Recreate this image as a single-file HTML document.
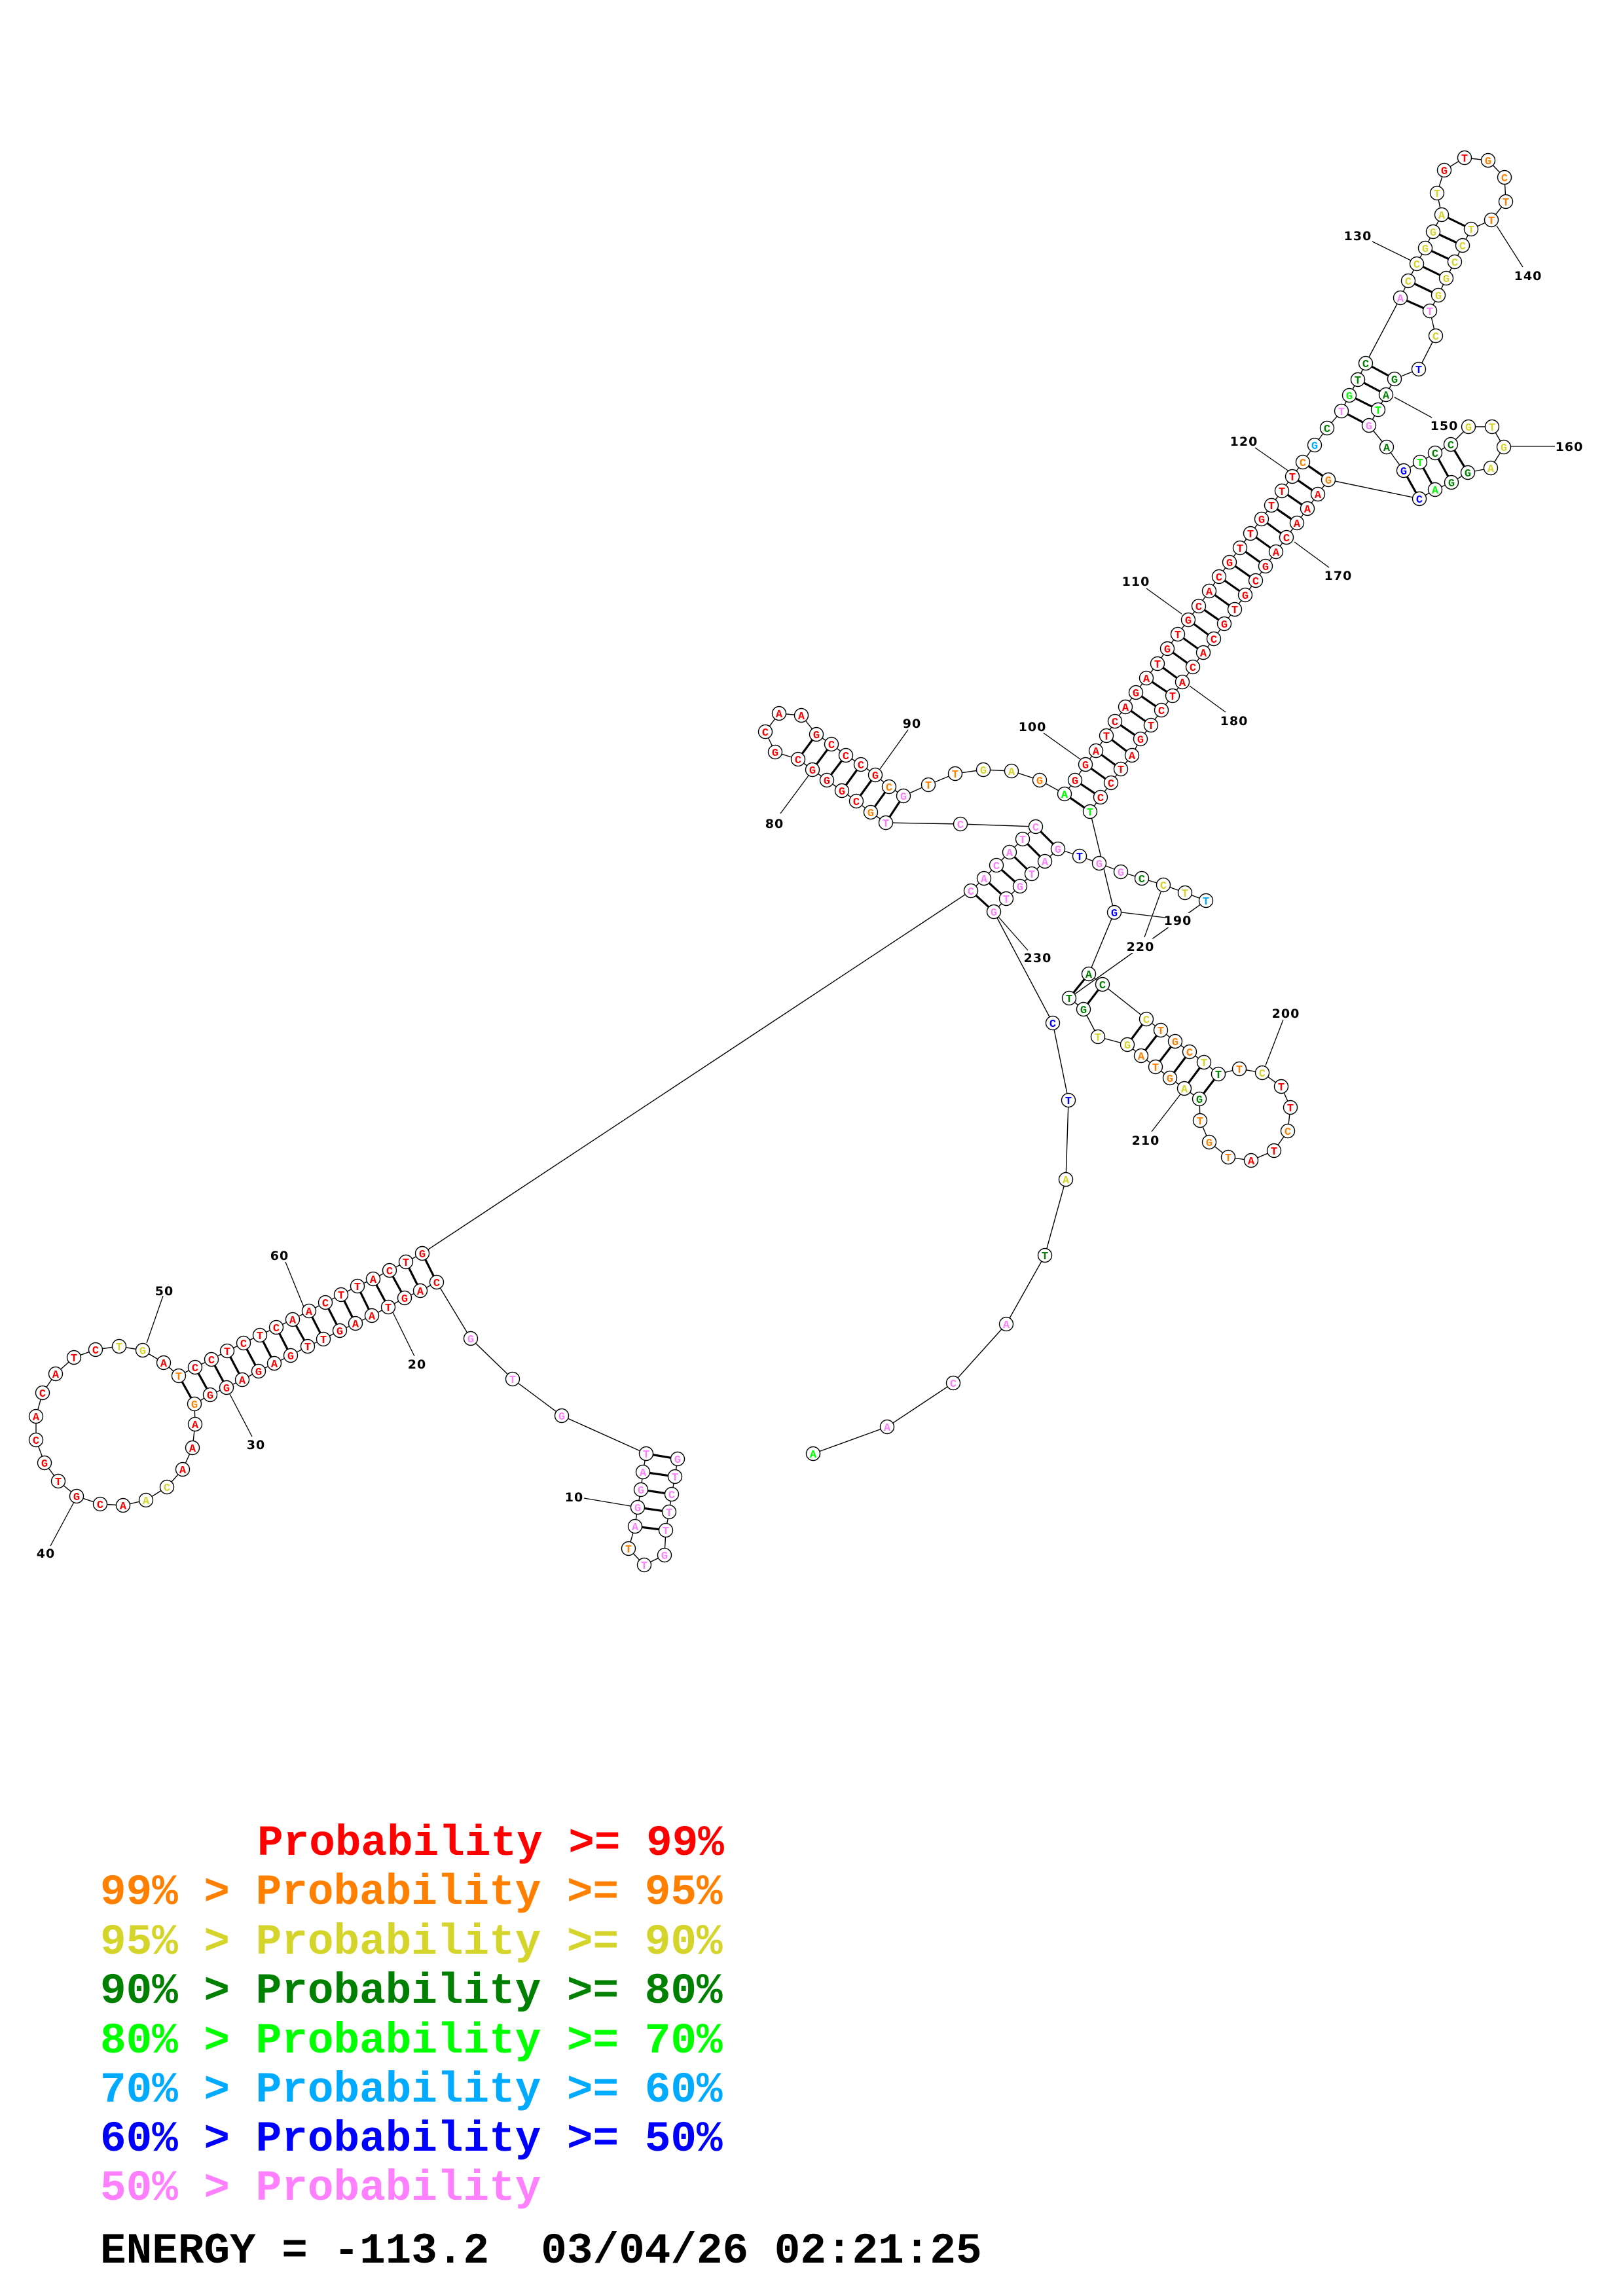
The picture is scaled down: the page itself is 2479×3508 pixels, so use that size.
<!DOCTYPE html>
<html><head><meta charset="utf-8"><style>
html,body{margin:0;padding:0;background:#fff;}
svg{display:block;}
.n circle{fill:#fff;stroke:#000;stroke-width:1.4;}
.t text{font-family:"Liberation Mono",monospace;font-weight:bold;font-size:17px;text-anchor:middle;}
.R{fill:#ff0000}.O{fill:#ff8000}.Y{fill:#d4d42a}.G{fill:#008000}.L{fill:#00ff00}.C{fill:#00aaff}.B{fill:#0000ff}.P{fill:#ff80ff}
.lab text{font-family:"DejaVu Sans","Liberation Sans",sans-serif;font-weight:bold;font-size:19px;text-anchor:middle;letter-spacing:1px;fill:#000}
.leg{font-family:"Liberation Mono",monospace;font-weight:bold;font-size:66px;white-space:pre;}
</style></head><body>
<svg width="2479" height="3508" viewBox="0 0 2479 3508" xmlns="http://www.w3.org/2000/svg">
<rect width="2479" height="3508" fill="#fff"/>
<polyline fill="none" stroke="#000" stroke-width="1.4" points="1035,2229 1031,2256 1026,2283 1022,2310 1017,2338 1015,2376 984,2391 960,2366 970,2332 974,2303 979,2276 982,2249 987,2221 858,2163 783,2107 719,2045 667,1959 642,1972 618,1983 593,1997 568,2010 543,2022 519,2033 494,2046 470,2057 444,2071 419,2083 395,2095 370,2108 346,2120 321,2131 297,2145 298,2176 294,2212 279,2245 255,2272 223,2292 188,2300 153,2298 117,2286 89,2263 68,2235 55,2200 55,2164 65,2128 85,2099 113,2074 146,2062 182,2057 218,2063 250,2082 273,2102 298,2089 323,2077 347,2064 372,2052 397,2040 422,2028 447,2016 472,2003 497,1990 521,1978 546,1965 570,1954 595,1941 620,1928 645,1915 1483,1361 1503,1342 1522,1322 1542,1302 1562,1282 1582,1263 1467,1259 1353,1257 1330,1241 1308,1224 1286,1208 1263,1192 1241,1176 1219,1160 1184,1149 1169,1118 1190,1090 1224,1093 1247,1122 1270,1137 1292,1154 1315,1168 1337,1184 1358,1202 1380,1216 1418,1199 1459,1182 1502,1176 1545,1178 1588,1192 1626,1213 1642,1192 1658,1168 1674,1147 1690,1124 1703,1102 1719,1080 1735,1058 1751,1036 1768,1014 1783,991 1799,969 1815,947 1831,926 1847,903 1862,881 1878,859 1894,837 1910,815 1927,793 1942,772 1958,750 1974,728 1990,706 2008,680 2027,654 2049,628 2061,604 2074,580 2086,555 2139,455 2151,429 2164,403 2177,379 2189,354 2202,328 2195,295 2206,260 2237,241 2273,245 2298,271 2300,308 2278,336 2247,350 2234,375 2222,400 2209,425 2197,451 2184,475 2193,513 2167,564 2130,579 2117,603 2105,626 2091,650 2118,683 2144,719 2169,706 2192,692 2216,679 2243,652 2279,652 2297,683 2277,715 2242,722 2217,737 2192,748 2168,762 2029,733 2013,755 1997,777 1981,799 1965,821 1949,843 1933,865 1918,887 1902,909 1886,931 1870,953 1854,976 1838,997 1822,1019 1806,1042 1791,1063 1774,1085 1758,1108 1742,1129 1729,1154 1712,1175 1697,1196 1681,1218 1665,1240 1702,1394 1663,1488 1684,1504 1751,1557 1773,1574 1795,1591 1817,1607 1839,1623 1861,1641 1893,1633 1928,1639 1957,1660 1971,1692 1967,1728 1946,1758 1911,1773 1876,1768 1847,1745 1833,1712 1832,1679 1809,1663 1787,1647 1765,1630 1743,1613 1722,1596 1677,1584 1655,1542 1633,1525 1842,1376 1810,1364 1777,1352 1744,1342 1712,1332 1679,1319 1649,1308 1616,1297 1596,1316 1576,1335 1558,1354 1537,1373 1518,1393 1608,1563 1632,1681 1628,1802 1596,1918 1537,2023 1456,2113 1355,2180 1242,2221"/>
<g stroke="#000" stroke-width="3.2">
<line x1="1035" y1="2229" x2="987" y2="2221"/><line x1="1031" y1="2256" x2="982" y2="2249"/><line x1="1026" y1="2283" x2="979" y2="2276"/><line x1="1022" y1="2310" x2="974" y2="2303"/><line x1="1017" y1="2338" x2="970" y2="2332"/>
<line x1="667" y1="1959" x2="645" y2="1915"/><line x1="642" y1="1972" x2="620" y2="1928"/><line x1="618" y1="1983" x2="595" y2="1941"/><line x1="593" y1="1997" x2="570" y2="1954"/><line x1="568" y1="2010" x2="546" y2="1965"/><line x1="543" y1="2022" x2="521" y2="1978"/><line x1="519" y1="2033" x2="497" y2="1990"/><line x1="494" y1="2046" x2="472" y2="2003"/><line x1="470" y1="2057" x2="447" y2="2016"/><line x1="444" y1="2071" x2="422" y2="2028"/><line x1="419" y1="2083" x2="397" y2="2040"/><line x1="395" y1="2095" x2="372" y2="2052"/><line x1="370" y1="2108" x2="347" y2="2064"/><line x1="346" y1="2120" x2="323" y2="2077"/><line x1="321" y1="2131" x2="298" y2="2089"/><line x1="297" y1="2145" x2="273" y2="2102"/>
<line x1="1483" y1="1361" x2="1518" y2="1393"/><line x1="1503" y1="1342" x2="1537" y2="1373"/><line x1="1522" y1="1322" x2="1558" y2="1354"/><line x1="1542" y1="1302" x2="1576" y2="1335"/><line x1="1562" y1="1282" x2="1596" y2="1316"/><line x1="1582" y1="1263" x2="1616" y2="1297"/>
<line x1="1353" y1="1257" x2="1380" y2="1216"/><line x1="1330" y1="1241" x2="1358" y2="1202"/><line x1="1308" y1="1224" x2="1337" y2="1184"/><line x1="1286" y1="1208" x2="1315" y2="1168"/><line x1="1263" y1="1192" x2="1292" y2="1154"/><line x1="1241" y1="1176" x2="1270" y2="1137"/><line x1="1219" y1="1160" x2="1247" y2="1122"/>
<line x1="1626" y1="1213" x2="1665" y2="1240"/><line x1="1642" y1="1192" x2="1681" y2="1218"/><line x1="1658" y1="1168" x2="1697" y2="1196"/><line x1="1674" y1="1147" x2="1712" y2="1175"/><line x1="1690" y1="1124" x2="1729" y2="1154"/><line x1="1703" y1="1102" x2="1742" y2="1129"/><line x1="1719" y1="1080" x2="1758" y2="1108"/><line x1="1735" y1="1058" x2="1774" y2="1085"/><line x1="1751" y1="1036" x2="1791" y2="1063"/><line x1="1768" y1="1014" x2="1806" y2="1042"/><line x1="1783" y1="991" x2="1822" y2="1019"/><line x1="1799" y1="969" x2="1838" y2="997"/><line x1="1815" y1="947" x2="1854" y2="976"/><line x1="1831" y1="926" x2="1870" y2="953"/><line x1="1847" y1="903" x2="1886" y2="931"/><line x1="1862" y1="881" x2="1902" y2="909"/><line x1="1878" y1="859" x2="1918" y2="887"/><line x1="1894" y1="837" x2="1933" y2="865"/><line x1="1910" y1="815" x2="1949" y2="843"/><line x1="1927" y1="793" x2="1965" y2="821"/><line x1="1942" y1="772" x2="1981" y2="799"/><line x1="1958" y1="750" x2="1997" y2="777"/><line x1="1974" y1="728" x2="2013" y2="755"/><line x1="1990" y1="706" x2="2029" y2="733"/>
<line x1="2049" y1="628" x2="2091" y2="650"/><line x1="2061" y1="604" x2="2105" y2="626"/><line x1="2074" y1="580" x2="2117" y2="603"/><line x1="2086" y1="555" x2="2130" y2="579"/>
<line x1="2139" y1="455" x2="2184" y2="475"/><line x1="2151" y1="429" x2="2197" y2="451"/><line x1="2164" y1="403" x2="2209" y2="425"/><line x1="2177" y1="379" x2="2222" y2="400"/><line x1="2189" y1="354" x2="2234" y2="375"/><line x1="2202" y1="328" x2="2247" y2="350"/>
<line x1="2144" y1="719" x2="2168" y2="762"/><line x1="2169" y1="706" x2="2192" y2="748"/><line x1="2192" y1="692" x2="2217" y2="737"/><line x1="2216" y1="679" x2="2242" y2="722"/>
<line x1="1663" y1="1488" x2="1633" y2="1525"/><line x1="1684" y1="1504" x2="1655" y2="1542"/>
<line x1="1751" y1="1557" x2="1722" y2="1596"/><line x1="1773" y1="1574" x2="1743" y2="1613"/><line x1="1795" y1="1591" x2="1765" y2="1630"/><line x1="1817" y1="1607" x2="1787" y2="1647"/><line x1="1839" y1="1623" x2="1809" y2="1663"/><line x1="1861" y1="1641" x2="1832" y2="1679"/>
</g>
<g stroke="#000" stroke-width="1.3">
<line x1="892" y1="2289" x2="963" y2="2301"/><line x1="633" y1="2072" x2="599" y2="2003"/><line x1="385" y1="2195" x2="351" y2="2130"/><line x1="77" y1="2362" x2="113" y2="2295"/><line x1="249" y1="1980" x2="224" y2="2052"/><line x1="436" y1="1928" x2="464" y2="1997"/>
<line x1="1192" y1="1243" x2="1235" y2="1185"/><line x1="1387" y1="1115" x2="1344" y2="1175"/><line x1="1594" y1="1120" x2="1650" y2="1160"/><line x1="1751" y1="899" x2="1805" y2="938"/><line x1="1917" y1="684" x2="1973" y2="723"/><line x1="2096" y1="369" x2="2155" y2="398"/><line x1="2326" y1="408" x2="2286" y2="345"/><line x1="2187" y1="638" x2="2130" y2="607"/><line x1="2307" y1="682" x2="2375" y2="682"/><line x1="2030" y1="867" x2="1977" y2="828"/><line x1="1872" y1="1088" x2="1817" y2="1048"/><line x1="1713" y1="1394" x2="1780" y2="1402"/><line x1="1960" y1="1558" x2="1933" y2="1628"/><line x1="1759" y1="1729" x2="1803" y2="1672"/><line x1="1773" y1="1363" x2="1748" y2="1432"/><line x1="1518" y1="1393" x2="1570" y2="1452"/>
</g>
<g class="lab">
<rect x="1722" y="1434" width="42" height="22" fill="#fff"/>
<rect x="1780" y="1395" width="42" height="22" fill="#fff"/>
<text x="877" y="2294">10</text><text x="637" y="2091">20</text><text x="391" y="2214">30</text><text x="70" y="2380">40</text><text x="251" y="1979">50</text><text x="427" y="1925">60</text>
<text x="1183" y="1265">80</text><text x="1393" y="1112">90</text><text x="1577" y="1117">100</text><text x="1735" y="895">110</text><text x="1900" y="681">120</text><text x="2074" y="367">130</text><text x="2334" y="428">140</text><text x="2206" y="657">150</text><text x="2397" y="689">160</text><text x="2044" y="886">170</text><text x="1885" y="1108">180</text><text x="1799" y="1413">190</text><text x="1964" y="1555">200</text><text x="1750" y="1749">210</text><text x="1742" y="1453">220</text><text x="1585" y="1470">230</text>
</g>
<g class="n">
<circle cx="1035" cy="2229" r="10.5"/><circle cx="1031" cy="2256" r="10.5"/><circle cx="1026" cy="2283" r="10.5"/><circle cx="1022" cy="2310" r="10.5"/><circle cx="1017" cy="2338" r="10.5"/><circle cx="1015" cy="2376" r="10.5"/><circle cx="984" cy="2391" r="10.5"/><circle cx="960" cy="2366" r="10.5"/><circle cx="970" cy="2332" r="10.5"/><circle cx="974" cy="2303" r="10.5"/><circle cx="979" cy="2276" r="10.5"/><circle cx="982" cy="2249" r="10.5"/><circle cx="987" cy="2221" r="10.5"/><circle cx="858" cy="2163" r="10.5"/><circle cx="783" cy="2107" r="10.5"/><circle cx="719" cy="2045" r="10.5"/>
<circle cx="667" cy="1959" r="10.5"/><circle cx="642" cy="1972" r="10.5"/><circle cx="618" cy="1983" r="10.5"/><circle cx="593" cy="1997" r="10.5"/><circle cx="568" cy="2010" r="10.5"/><circle cx="543" cy="2022" r="10.5"/><circle cx="519" cy="2033" r="10.5"/><circle cx="494" cy="2046" r="10.5"/><circle cx="470" cy="2057" r="10.5"/><circle cx="444" cy="2071" r="10.5"/><circle cx="419" cy="2083" r="10.5"/><circle cx="395" cy="2095" r="10.5"/><circle cx="370" cy="2108" r="10.5"/><circle cx="346" cy="2120" r="10.5"/><circle cx="321" cy="2131" r="10.5"/><circle cx="297" cy="2145" r="10.5"/>
<circle cx="298" cy="2176" r="10.5"/><circle cx="294" cy="2212" r="10.5"/><circle cx="279" cy="2245" r="10.5"/><circle cx="255" cy="2272" r="10.5"/><circle cx="223" cy="2292" r="10.5"/><circle cx="188" cy="2300" r="10.5"/><circle cx="153" cy="2298" r="10.5"/><circle cx="117" cy="2286" r="10.5"/><circle cx="89" cy="2263" r="10.5"/><circle cx="68" cy="2235" r="10.5"/><circle cx="55" cy="2200" r="10.5"/><circle cx="55" cy="2164" r="10.5"/><circle cx="65" cy="2128" r="10.5"/><circle cx="85" cy="2099" r="10.5"/><circle cx="113" cy="2074" r="10.5"/><circle cx="146" cy="2062" r="10.5"/><circle cx="182" cy="2057" r="10.5"/><circle cx="218" cy="2063" r="10.5"/><circle cx="250" cy="2082" r="10.5"/><circle cx="273" cy="2102" r="10.5"/>
<circle cx="298" cy="2089" r="10.5"/><circle cx="323" cy="2077" r="10.5"/><circle cx="347" cy="2064" r="10.5"/><circle cx="372" cy="2052" r="10.5"/><circle cx="397" cy="2040" r="10.5"/><circle cx="422" cy="2028" r="10.5"/><circle cx="447" cy="2016" r="10.5"/><circle cx="472" cy="2003" r="10.5"/><circle cx="497" cy="1990" r="10.5"/><circle cx="521" cy="1978" r="10.5"/><circle cx="546" cy="1965" r="10.5"/><circle cx="570" cy="1954" r="10.5"/><circle cx="595" cy="1941" r="10.5"/><circle cx="620" cy="1928" r="10.5"/><circle cx="645" cy="1915" r="10.5"/>
<circle cx="1483" cy="1361" r="10.5"/><circle cx="1503" cy="1342" r="10.5"/><circle cx="1522" cy="1322" r="10.5"/><circle cx="1542" cy="1302" r="10.5"/><circle cx="1562" cy="1282" r="10.5"/><circle cx="1582" cy="1263" r="10.5"/><circle cx="1467" cy="1259" r="10.5"/><circle cx="1353" cy="1257" r="10.5"/><circle cx="1330" cy="1241" r="10.5"/><circle cx="1308" cy="1224" r="10.5"/><circle cx="1286" cy="1208" r="10.5"/><circle cx="1263" cy="1192" r="10.5"/><circle cx="1241" cy="1176" r="10.5"/><circle cx="1219" cy="1160" r="10.5"/><circle cx="1184" cy="1149" r="10.5"/><circle cx="1169" cy="1118" r="10.5"/><circle cx="1190" cy="1090" r="10.5"/><circle cx="1224" cy="1093" r="10.5"/><circle cx="1247" cy="1122" r="10.5"/><circle cx="1270" cy="1137" r="10.5"/><circle cx="1292" cy="1154" r="10.5"/><circle cx="1315" cy="1168" r="10.5"/><circle cx="1337" cy="1184" r="10.5"/><circle cx="1358" cy="1202" r="10.5"/><circle cx="1380" cy="1216" r="10.5"/><circle cx="1418" cy="1199" r="10.5"/><circle cx="1459" cy="1182" r="10.5"/><circle cx="1502" cy="1176" r="10.5"/><circle cx="1545" cy="1178" r="10.5"/><circle cx="1588" cy="1192" r="10.5"/>
<circle cx="1626" cy="1213" r="10.5"/><circle cx="1642" cy="1192" r="10.5"/><circle cx="1658" cy="1168" r="10.5"/><circle cx="1674" cy="1147" r="10.5"/><circle cx="1690" cy="1124" r="10.5"/><circle cx="1703" cy="1102" r="10.5"/><circle cx="1719" cy="1080" r="10.5"/><circle cx="1735" cy="1058" r="10.5"/><circle cx="1751" cy="1036" r="10.5"/><circle cx="1768" cy="1014" r="10.5"/><circle cx="1783" cy="991" r="10.5"/><circle cx="1799" cy="969" r="10.5"/><circle cx="1815" cy="947" r="10.5"/><circle cx="1831" cy="926" r="10.5"/><circle cx="1847" cy="903" r="10.5"/><circle cx="1862" cy="881" r="10.5"/><circle cx="1878" cy="859" r="10.5"/><circle cx="1894" cy="837" r="10.5"/><circle cx="1910" cy="815" r="10.5"/><circle cx="1927" cy="793" r="10.5"/><circle cx="1942" cy="772" r="10.5"/><circle cx="1958" cy="750" r="10.5"/><circle cx="1974" cy="728" r="10.5"/><circle cx="1990" cy="706" r="10.5"/><circle cx="2008" cy="680" r="10.5"/><circle cx="2027" cy="654" r="10.5"/>
<circle cx="2049" cy="628" r="10.5"/><circle cx="2061" cy="604" r="10.5"/><circle cx="2074" cy="580" r="10.5"/><circle cx="2086" cy="555" r="10.5"/><circle cx="2139" cy="455" r="10.5"/><circle cx="2151" cy="429" r="10.5"/><circle cx="2164" cy="403" r="10.5"/><circle cx="2177" cy="379" r="10.5"/><circle cx="2189" cy="354" r="10.5"/><circle cx="2202" cy="328" r="10.5"/><circle cx="2195" cy="295" r="10.5"/><circle cx="2206" cy="260" r="10.5"/><circle cx="2237" cy="241" r="10.5"/><circle cx="2273" cy="245" r="10.5"/><circle cx="2298" cy="271" r="10.5"/><circle cx="2300" cy="308" r="10.5"/><circle cx="2278" cy="336" r="10.5"/><circle cx="2247" cy="350" r="10.5"/><circle cx="2234" cy="375" r="10.5"/><circle cx="2222" cy="400" r="10.5"/><circle cx="2209" cy="425" r="10.5"/><circle cx="2197" cy="451" r="10.5"/><circle cx="2184" cy="475" r="10.5"/><circle cx="2193" cy="513" r="10.5"/><circle cx="2167" cy="564" r="10.5"/><circle cx="2130" cy="579" r="10.5"/><circle cx="2117" cy="603" r="10.5"/><circle cx="2105" cy="626" r="10.5"/><circle cx="2091" cy="650" r="10.5"/>
<circle cx="2118" cy="683" r="10.5"/><circle cx="2144" cy="719" r="10.5"/><circle cx="2169" cy="706" r="10.5"/><circle cx="2192" cy="692" r="10.5"/><circle cx="2216" cy="679" r="10.5"/><circle cx="2243" cy="652" r="10.5"/><circle cx="2279" cy="652" r="10.5"/><circle cx="2297" cy="683" r="10.5"/><circle cx="2277" cy="715" r="10.5"/><circle cx="2242" cy="722" r="10.5"/><circle cx="2217" cy="737" r="10.5"/><circle cx="2192" cy="748" r="10.5"/><circle cx="2168" cy="762" r="10.5"/>
<circle cx="2029" cy="733" r="10.5"/><circle cx="2013" cy="755" r="10.5"/><circle cx="1997" cy="777" r="10.5"/><circle cx="1981" cy="799" r="10.5"/><circle cx="1965" cy="821" r="10.5"/><circle cx="1949" cy="843" r="10.5"/><circle cx="1933" cy="865" r="10.5"/><circle cx="1918" cy="887" r="10.5"/><circle cx="1902" cy="909" r="10.5"/><circle cx="1886" cy="931" r="10.5"/><circle cx="1870" cy="953" r="10.5"/><circle cx="1854" cy="976" r="10.5"/><circle cx="1838" cy="997" r="10.5"/><circle cx="1822" cy="1019" r="10.5"/><circle cx="1806" cy="1042" r="10.5"/><circle cx="1791" cy="1063" r="10.5"/><circle cx="1774" cy="1085" r="10.5"/><circle cx="1758" cy="1108" r="10.5"/><circle cx="1742" cy="1129" r="10.5"/><circle cx="1729" cy="1154" r="10.5"/><circle cx="1712" cy="1175" r="10.5"/><circle cx="1697" cy="1196" r="10.5"/><circle cx="1681" cy="1218" r="10.5"/><circle cx="1665" cy="1240" r="10.5"/>
<circle cx="1702" cy="1394" r="10.5"/><circle cx="1663" cy="1488" r="10.5"/><circle cx="1684" cy="1504" r="10.5"/><circle cx="1751" cy="1557" r="10.5"/><circle cx="1773" cy="1574" r="10.5"/><circle cx="1795" cy="1591" r="10.5"/><circle cx="1817" cy="1607" r="10.5"/><circle cx="1839" cy="1623" r="10.5"/><circle cx="1861" cy="1641" r="10.5"/><circle cx="1893" cy="1633" r="10.5"/><circle cx="1928" cy="1639" r="10.5"/><circle cx="1957" cy="1660" r="10.5"/><circle cx="1971" cy="1692" r="10.5"/><circle cx="1967" cy="1728" r="10.5"/><circle cx="1946" cy="1758" r="10.5"/><circle cx="1911" cy="1773" r="10.5"/><circle cx="1876" cy="1768" r="10.5"/><circle cx="1847" cy="1745" r="10.5"/><circle cx="1833" cy="1712" r="10.5"/><circle cx="1832" cy="1679" r="10.5"/><circle cx="1809" cy="1663" r="10.5"/><circle cx="1787" cy="1647" r="10.5"/><circle cx="1765" cy="1630" r="10.5"/><circle cx="1743" cy="1613" r="10.5"/><circle cx="1722" cy="1596" r="10.5"/><circle cx="1677" cy="1584" r="10.5"/><circle cx="1655" cy="1542" r="10.5"/><circle cx="1633" cy="1525" r="10.5"/>
<circle cx="1842" cy="1376" r="10.5"/><circle cx="1810" cy="1364" r="10.5"/><circle cx="1777" cy="1352" r="10.5"/><circle cx="1744" cy="1342" r="10.5"/><circle cx="1712" cy="1332" r="10.5"/><circle cx="1679" cy="1319" r="10.5"/><circle cx="1649" cy="1308" r="10.5"/><circle cx="1616" cy="1297" r="10.5"/><circle cx="1596" cy="1316" r="10.5"/><circle cx="1576" cy="1335" r="10.5"/><circle cx="1558" cy="1354" r="10.5"/><circle cx="1537" cy="1373" r="10.5"/><circle cx="1518" cy="1393" r="10.5"/>
<circle cx="1608" cy="1563" r="10.5"/><circle cx="1632" cy="1681" r="10.5"/><circle cx="1628" cy="1802" r="10.5"/><circle cx="1596" cy="1918" r="10.5"/><circle cx="1537" cy="2023" r="10.5"/><circle cx="1456" cy="2113" r="10.5"/><circle cx="1355" cy="2180" r="10.5"/><circle cx="1242" cy="2221" r="10.5"/>
</g>
<g class="t" transform="translate(0,6)">
<text x="1035" y="2229" class="P">G</text><text x="1031" y="2256" class="P">T</text><text x="1026" y="2283" class="P">C</text><text x="1022" y="2310" class="P">T</text><text x="1017" y="2338" class="P">T</text><text x="1015" y="2376" class="P">G</text><text x="984" y="2391" class="P">T</text><text x="960" y="2366" class="O">T</text><text x="970" y="2332" class="P">A</text><text x="974" y="2303" class="P">G</text><text x="979" y="2276" class="P">G</text><text x="982" y="2249" class="P">A</text><text x="987" y="2221" class="P">T</text><text x="858" y="2163" class="P">G</text><text x="783" y="2107" class="P">T</text><text x="719" y="2045" class="P">G</text>
<text x="667" y="1959" class="R">C</text><text x="642" y="1972" class="R">A</text><text x="618" y="1983" class="R">G</text><text x="593" y="1997" class="R">T</text><text x="568" y="2010" class="R">A</text><text x="543" y="2022" class="R">A</text><text x="519" y="2033" class="R">G</text><text x="494" y="2046" class="R">T</text><text x="470" y="2057" class="R">T</text><text x="444" y="2071" class="R">G</text><text x="419" y="2083" class="R">A</text><text x="395" y="2095" class="R">G</text><text x="370" y="2108" class="R">A</text><text x="346" y="2120" class="R">G</text><text x="321" y="2131" class="R">G</text><text x="297" y="2145" class="O">G</text>
<text x="298" y="2176" class="R">A</text><text x="294" y="2212" class="R">A</text><text x="279" y="2245" class="R">A</text><text x="255" y="2272" class="Y">C</text><text x="223" y="2292" class="Y">A</text><text x="188" y="2300" class="R">A</text><text x="153" y="2298" class="R">C</text><text x="117" y="2286" class="R">G</text><text x="89" y="2263" class="R">T</text><text x="68" y="2235" class="R">G</text><text x="55" y="2200" class="R">C</text><text x="55" y="2164" class="R">A</text><text x="65" y="2128" class="R">C</text><text x="85" y="2099" class="R">A</text><text x="113" y="2074" class="R">T</text><text x="146" y="2062" class="R">C</text><text x="182" y="2057" class="Y">T</text><text x="218" y="2063" class="Y">G</text><text x="250" y="2082" class="R">A</text><text x="273" y="2102" class="O">T</text>
<text x="298" y="2089" class="R">C</text><text x="323" y="2077" class="R">C</text><text x="347" y="2064" class="R">T</text><text x="372" y="2052" class="R">C</text><text x="397" y="2040" class="R">T</text><text x="422" y="2028" class="R">C</text><text x="447" y="2016" class="R">A</text><text x="472" y="2003" class="R">A</text><text x="497" y="1990" class="R">C</text><text x="521" y="1978" class="R">T</text><text x="546" y="1965" class="R">T</text><text x="570" y="1954" class="R">A</text><text x="595" y="1941" class="R">C</text><text x="620" y="1928" class="R">T</text><text x="645" y="1915" class="R">G</text>
<text x="1483" y="1361" class="P">C</text><text x="1503" y="1342" class="P">A</text><text x="1522" y="1322" class="P">C</text><text x="1542" y="1302" class="P">A</text><text x="1562" y="1282" class="P">T</text><text x="1582" y="1263" class="P">C</text><text x="1467" y="1259" class="P">C</text><text x="1353" y="1257" class="P">T</text><text x="1330" y="1241" class="O">G</text><text x="1308" y="1224" class="R">C</text><text x="1286" y="1208" class="R">G</text><text x="1263" y="1192" class="R">G</text><text x="1241" y="1176" class="R">G</text><text x="1219" y="1160" class="R">C</text><text x="1184" y="1149" class="R">G</text><text x="1169" y="1118" class="R">C</text><text x="1190" y="1090" class="R">A</text><text x="1224" y="1093" class="R">A</text><text x="1247" y="1122" class="R">G</text><text x="1270" y="1137" class="R">C</text><text x="1292" y="1154" class="R">C</text><text x="1315" y="1168" class="R">C</text><text x="1337" y="1184" class="R">G</text><text x="1358" y="1202" class="O">C</text><text x="1380" y="1216" class="P">G</text><text x="1418" y="1199" class="O">T</text><text x="1459" y="1182" class="O">T</text><text x="1502" y="1176" class="Y">G</text><text x="1545" y="1178" class="Y">A</text><text x="1588" y="1192" class="O">G</text>
<text x="1626" y="1213" class="L">A</text><text x="1642" y="1192" class="R">G</text><text x="1658" y="1168" class="R">G</text><text x="1674" y="1147" class="R">A</text><text x="1690" y="1124" class="R">T</text><text x="1703" y="1102" class="R">C</text><text x="1719" y="1080" class="R">A</text><text x="1735" y="1058" class="R">G</text><text x="1751" y="1036" class="R">A</text><text x="1768" y="1014" class="R">T</text><text x="1783" y="991" class="R">G</text><text x="1799" y="969" class="R">T</text><text x="1815" y="947" class="R">G</text><text x="1831" y="926" class="R">C</text><text x="1847" y="903" class="R">A</text><text x="1862" y="881" class="R">C</text><text x="1878" y="859" class="R">G</text><text x="1894" y="837" class="R">T</text><text x="1910" y="815" class="R">T</text><text x="1927" y="793" class="R">G</text><text x="1942" y="772" class="R">T</text><text x="1958" y="750" class="R">T</text><text x="1974" y="728" class="R">T</text><text x="1990" y="706" class="O">C</text><text x="2008" y="680" class="C">G</text><text x="2027" y="654" class="G">C</text>
<text x="2049" y="628" class="P">T</text><text x="2061" y="604" class="L">G</text><text x="2074" y="580" class="G">T</text><text x="2086" y="555" class="G">C</text><text x="2139" y="455" class="P">A</text><text x="2151" y="429" class="Y">C</text><text x="2164" y="403" class="Y">C</text><text x="2177" y="379" class="Y">G</text><text x="2189" y="354" class="Y">G</text><text x="2202" y="328" class="Y">A</text><text x="2195" y="295" class="Y">T</text><text x="2206" y="260" class="R">G</text><text x="2237" y="241" class="R">T</text><text x="2273" y="245" class="O">G</text><text x="2298" y="271" class="O">C</text><text x="2300" y="308" class="O">T</text><text x="2278" y="336" class="O">T</text><text x="2247" y="350" class="Y">T</text><text x="2234" y="375" class="Y">C</text><text x="2222" y="400" class="Y">C</text><text x="2209" y="425" class="Y">G</text><text x="2197" y="451" class="Y">G</text><text x="2184" y="475" class="P">T</text><text x="2193" y="513" class="Y">C</text><text x="2167" y="564" class="B">T</text><text x="2130" y="579" class="G">G</text><text x="2117" y="603" class="G">A</text><text x="2105" y="626" class="L">T</text><text x="2091" y="650" class="P">G</text>
<text x="2118" y="683" class="G">A</text><text x="2144" y="719" class="B">G</text><text x="2169" y="706" class="L">T</text><text x="2192" y="692" class="G">C</text><text x="2216" y="679" class="G">C</text><text x="2243" y="652" class="Y">G</text><text x="2279" y="652" class="Y">T</text><text x="2297" y="683" class="Y">G</text><text x="2277" y="715" class="Y">A</text><text x="2242" y="722" class="G">G</text><text x="2217" y="737" class="G">G</text><text x="2192" y="748" class="L">A</text><text x="2168" y="762" class="B">C</text>
<text x="2029" y="733" class="O">G</text><text x="2013" y="755" class="R">A</text><text x="1997" y="777" class="R">A</text><text x="1981" y="799" class="R">A</text><text x="1965" y="821" class="R">C</text><text x="1949" y="843" class="R">A</text><text x="1933" y="865" class="R">G</text><text x="1918" y="887" class="R">C</text><text x="1902" y="909" class="R">G</text><text x="1886" y="931" class="R">T</text><text x="1870" y="953" class="R">G</text><text x="1854" y="976" class="R">C</text><text x="1838" y="997" class="R">A</text><text x="1822" y="1019" class="R">C</text><text x="1806" y="1042" class="R">A</text><text x="1791" y="1063" class="R">T</text><text x="1774" y="1085" class="R">C</text><text x="1758" y="1108" class="R">T</text><text x="1742" y="1129" class="R">G</text><text x="1729" y="1154" class="R">A</text><text x="1712" y="1175" class="R">T</text><text x="1697" y="1196" class="R">C</text><text x="1681" y="1218" class="R">C</text><text x="1665" y="1240" class="L">T</text>
<text x="1702" y="1394" class="B">G</text><text x="1663" y="1488" class="G">A</text><text x="1684" y="1504" class="G">C</text><text x="1751" y="1557" class="Y">C</text><text x="1773" y="1574" class="O">T</text><text x="1795" y="1591" class="O">G</text><text x="1817" y="1607" class="O">C</text><text x="1839" y="1623" class="Y">T</text><text x="1861" y="1641" class="G">T</text><text x="1893" y="1633" class="O">T</text><text x="1928" y="1639" class="Y">C</text><text x="1957" y="1660" class="R">T</text><text x="1971" y="1692" class="R">T</text><text x="1967" y="1728" class="O">C</text><text x="1946" y="1758" class="R">T</text><text x="1911" y="1773" class="R">A</text><text x="1876" y="1768" class="O">T</text><text x="1847" y="1745" class="O">G</text><text x="1833" y="1712" class="O">T</text><text x="1832" y="1679" class="G">G</text><text x="1809" y="1663" class="Y">A</text><text x="1787" y="1647" class="O">G</text><text x="1765" y="1630" class="O">T</text><text x="1743" y="1613" class="O">A</text><text x="1722" y="1596" class="Y">G</text><text x="1677" y="1584" class="Y">T</text><text x="1655" y="1542" class="G">G</text><text x="1633" y="1525" class="G">T</text>
<text x="1842" y="1376" class="C">T</text><text x="1810" y="1364" class="Y">T</text><text x="1777" y="1352" class="Y">C</text><text x="1744" y="1342" class="G">C</text><text x="1712" y="1332" class="P">G</text><text x="1679" y="1319" class="P">G</text><text x="1649" y="1308" class="B">T</text><text x="1616" y="1297" class="P">G</text><text x="1596" y="1316" class="P">A</text><text x="1576" y="1335" class="P">T</text><text x="1558" y="1354" class="P">G</text><text x="1537" y="1373" class="P">T</text><text x="1518" y="1393" class="P">G</text>
<text x="1608" y="1563" class="B">C</text><text x="1632" y="1681" class="B">T</text><text x="1628" y="1802" class="Y">A</text><text x="1596" y="1918" class="G">T</text><text x="1537" y="2023" class="P">A</text><text x="1456" y="2113" class="P">C</text><text x="1355" y="2180" class="P">A</text><text x="1242" y="2221" class="L">A</text>
</g>
<g class="leg">
<text x="393" y="2834" fill="#ff0000">Probability &gt;= 99%</text>
<text x="153" y="2909" fill="#ff8000">99% &gt; Probability &gt;= 95%</text>
<text x="153" y="2985" fill="#d4d42a">95% &gt; Probability &gt;= 90%</text>
<text x="153" y="3060" fill="#008000">90% &gt; Probability &gt;= 80%</text>
<text x="153" y="3136" fill="#00ff00">80% &gt; Probability &gt;= 70%</text>
<text x="153" y="3211" fill="#00aaff">70% &gt; Probability &gt;= 60%</text>
<text x="153" y="3286" fill="#0000ff">60% &gt; Probability &gt;= 50%</text>
<text x="153" y="3361" fill="#ff80ff">50% &gt; Probability</text>
<text x="153" y="3457" fill="#000" xml:space="preserve">ENERGY = -113.2  03/04/26 02:21:25</text>
</g>
</svg>
</body></html>
